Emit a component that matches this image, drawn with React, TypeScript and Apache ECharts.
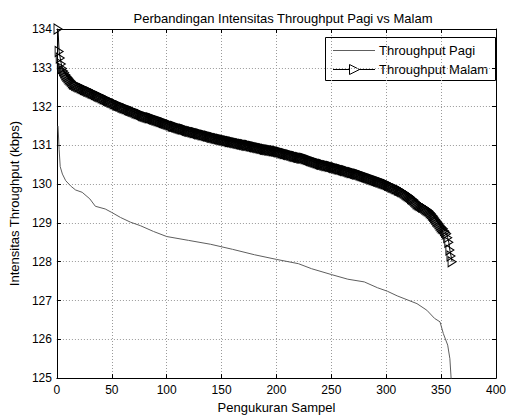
import React, { useEffect, useRef } from "react";
import * as echarts from "echarts";

const titleText = "Perbandingan Intensitas Throughput Pagi vs Malam";
const xName = "Pengukuran Sampel";
const yName = "Intensitas Throughput (kbps)";
const seriesNames = ["Throughput Pagi", "Throughput Malam"];

// Throughput Pagi: readings at selected sample numbers
const pagiSamples = [1, 2, 3, 5, 8, 13, 17, 23, 30, 35, 44, 50, 58, 67, 76, 88, 100, 120, 140, 160, 180, 200, 220, 232, 250, 265, 280, 292, 301, 310, 328, 337, 344, 349, 352, 356, 358, 360];
const pagiValues = [131.5, 130.9, 130.45, 130.26, 130.09, 129.94, 129.85, 129.79, 129.62, 129.43, 129.36, 129.27, 129.14, 129.02, 128.93, 128.78, 128.65, 128.55, 128.45, 128.32, 128.18, 128.06, 127.95, 127.82, 127.67, 127.55, 127.48, 127.33, 127.24, 127.12, 126.92, 126.75, 126.54, 126.45, 126.15, 125.85, 125.5, 124.6];

// Throughput Malam: one reading per sample, samples 1..360
const malamValues = [
  134.00, 133.42, 133.25, 133.10, 132.98, 132.92, 132.87, 132.82, 132.78, 132.75,
  132.71, 132.68, 132.65, 132.61, 132.58, 132.57, 132.55, 132.54, 132.52, 132.51,
  132.50, 132.48, 132.47, 132.46, 132.44, 132.43, 132.42, 132.40, 132.39, 132.38,
  132.37, 132.35, 132.34, 132.33, 132.31, 132.30, 132.28, 132.27, 132.26, 132.25,
  132.23, 132.22, 132.20, 132.19, 132.18, 132.16, 132.15, 132.14, 132.12, 132.11,
  132.10, 132.08, 132.07, 132.06, 132.04, 132.03, 132.02, 132.01, 131.99, 131.98,
  131.97, 131.96, 131.95, 131.94, 131.92, 131.91, 131.90, 131.89, 131.88, 131.87,
  131.86, 131.84, 131.83, 131.82, 131.81, 131.80, 131.79, 131.77, 131.76, 131.75,
  131.74, 131.73, 131.72, 131.71, 131.71, 131.70, 131.69, 131.68, 131.67, 131.66,
  131.65, 131.64, 131.63, 131.62, 131.61, 131.60, 131.59, 131.58, 131.57, 131.56,
  131.55, 131.54, 131.53, 131.52, 131.50, 131.49, 131.49, 131.48, 131.47, 131.46,
  131.45, 131.44, 131.43, 131.42, 131.42, 131.41, 131.40, 131.39, 131.38, 131.37,
  131.36, 131.36, 131.35, 131.34, 131.33, 131.33, 131.32, 131.31, 131.30, 131.30,
  131.29, 131.28, 131.27, 131.27, 131.26, 131.25, 131.24, 131.24, 131.23, 131.22,
  131.21, 131.21, 131.20, 131.19, 131.18, 131.18, 131.17, 131.16, 131.16, 131.15,
  131.14, 131.14, 131.13, 131.12, 131.12, 131.11, 131.10, 131.10, 131.09, 131.09,
  131.08, 131.07, 131.07, 131.06, 131.05, 131.05, 131.04, 131.03, 131.03, 131.02,
  131.02, 131.01, 131.00, 131.00, 131.00, 130.99, 130.98, 130.98, 130.97, 130.96,
  130.96, 130.95, 130.94, 130.94, 130.93, 130.92, 130.92, 130.91, 130.90, 130.90,
  130.89, 130.89, 130.88, 130.88, 130.87, 130.87, 130.86, 130.86, 130.85, 130.85,
  130.84, 130.83, 130.83, 130.82, 130.81, 130.80, 130.79, 130.79, 130.78, 130.77,
  130.76, 130.76, 130.75, 130.74, 130.73, 130.72, 130.72, 130.71, 130.70, 130.69,
  130.69, 130.68, 130.67, 130.67, 130.67, 130.66, 130.65, 130.64, 130.63, 130.62,
  130.61, 130.60, 130.59, 130.58, 130.57, 130.56, 130.55, 130.54, 130.53, 130.52,
  130.51, 130.51, 130.50, 130.49, 130.48, 130.48, 130.47, 130.46, 130.46, 130.45,
  130.44, 130.43, 130.43, 130.42, 130.41, 130.40, 130.39, 130.39, 130.38, 130.37,
  130.36, 130.35, 130.35, 130.34, 130.33, 130.32, 130.31, 130.30, 130.30, 130.29,
  130.28, 130.27, 130.26, 130.26, 130.25, 130.24, 130.23, 130.22, 130.21, 130.20,
  130.19, 130.18, 130.17, 130.16, 130.15, 130.14, 130.13, 130.12, 130.11, 130.10,
  130.09, 130.08, 130.07, 130.06, 130.05, 130.04, 130.03, 130.02, 130.01, 130.00,
  129.99, 129.97, 129.96, 129.95, 129.93, 129.92, 129.91, 129.89, 129.88, 129.87,
  129.85, 129.84, 129.83, 129.81, 129.80, 129.78, 129.76, 129.74, 129.72, 129.70,
  129.68, 129.66, 129.63, 129.61, 129.59, 129.56, 129.53, 129.50, 129.48, 129.46,
  129.45, 129.43, 129.41, 129.40, 129.38, 129.36, 129.34, 129.32, 129.30, 129.27,
  129.24, 129.20, 129.17, 129.13, 129.09, 129.05, 129.02, 128.98, 128.94, 128.90,
  128.87, 128.85, 128.80, 128.76, 128.72, 128.62, 128.50, 128.30, 128.15, 128.00,
];

const xMin = 0, xMax = 400, xStep = 50;
const yMin = 125, yMax = 134, yStep = 1;

const FONT = "'Liberation Sans', Arial, Helvetica, sans-serif";
const PAGI_COLOR = "#5e5e5e";

export default function App() {
  const ref = useRef<HTMLDivElement>(null);
  useEffect(() => {
    if (!ref.current) return;
    const chart = echarts.init(ref.current, null, { renderer: "svg" });
    const pagiData = pagiSamples.map((s, i) => [s, pagiValues[i]]);
    const malamData = malamValues.map((v, i) => [i + 1, v]);
    const tri = "path://M0,0L10,5L0,10Z";
    const gridLine = { show: true, lineStyle: { color: "#9a9a9a", width: 1, type: [1, 2] as any } };
    const axisLine = { show: true, onZero: false, lineStyle: { color: "#000", width: 1 } };
    const tick = { show: true, inside: true, length: 4, lineStyle: { color: "#000" } };
    const legendText = { fontSize: 13, fill: "#000", fontFamily: FONT, verticalAlign: "middle" as const };
    chart.setOption({
      animation: false,
      backgroundColor: "#fff",
      textStyle: { fontFamily: FONT },
      title: {
        text: titleText,
        left: 278,
        top: 7,
        textAlign: "center",
        textStyle: { fontSize: 13, fontWeight: "normal", color: "#000", fontFamily: FONT },
      },
      grid: { left: 56, right: 9, top: 29, bottom: 39 },
      xAxis: [
        {
          type: "value", min: xMin, max: xMax, interval: xStep,
          name: xName, nameLocation: "middle", nameGap: 22,
          nameTextStyle: { fontSize: 13, color: "#000", fontFamily: FONT },
          axisLine, axisTick: tick,
          axisLabel: { color: "#000", fontSize: 12, margin: 6, fontFamily: FONT },
          splitLine: gridLine,
        },
        {
          type: "value", position: "top", min: xMin, max: xMax, interval: xStep,
          axisLine, axisTick: tick, axisLabel: { show: false }, splitLine: { show: false },
        },
      ],
      yAxis: [
        {
          type: "value", min: yMin, max: yMax, interval: yStep,
          name: yName, nameLocation: "middle", nameGap: 35,
          nameTextStyle: { fontSize: 13, color: "#000", fontFamily: FONT },
          axisLine, axisTick: tick,
          axisLabel: { color: "#000", fontSize: 12, margin: 5, fontFamily: FONT },
          splitLine: gridLine,
        },
        {
          type: "value", position: "right", min: yMin, max: yMax, interval: yStep,
          axisLine, axisTick: tick, axisLabel: { show: false }, splitLine: { show: false },
        },
      ],
      graphic: [
        {
          type: "group",
          z: 100,
          children: [
            { type: "rect", shape: { x: 325.5, y: 37.5, width: 170, height: 43 }, style: { fill: "#fff", stroke: "#000", lineWidth: 1 } },
            { type: "line", shape: { x1: 333, y1: 50.5, x2: 375, y2: 50.5 }, style: { stroke: PAGI_COLOR, lineWidth: 1 } },
            { type: "text", x: 379, y: 50.5, style: { ...legendText, text: seriesNames[0] } },
            { type: "line", shape: { x1: 333, y1: 69.5, x2: 375, y2: 69.5 }, style: { stroke: "#000", lineWidth: 1 } },
            { type: "polygon", shape: { points: [[349.5, 64.5], [359.5, 69.5], [349.5, 74.5]] }, style: { fill: "#fff", stroke: "#000", lineWidth: 1 } },
            { type: "text", x: 379, y: 69.5, style: { ...legendText, text: seriesNames[1] } },
          ],
        },
      ],
      series: [
        {
          name: seriesNames[0],
          type: "line",
          data: pagiData,
          symbol: "none",
          showSymbol: false,
          clip: true,
          lineStyle: { color: PAGI_COLOR, width: 1 },
          itemStyle: { color: PAGI_COLOR },
        },
        {
          name: seriesNames[1],
          type: "line",
          data: malamData,
          symbol: tri,
          symbolSize: [8, 10],
          showSymbol: true,
          showAllSymbol: true,
          clip: true,
          lineStyle: { color: "#000", width: 1 },
          itemStyle: { color: "rgba(255,255,255,0)", borderColor: "#000", borderWidth: 1 },
        },
      ],
    });
    return () => chart.dispose();
  }, []);
  return <div ref={ref} style={{ position: "fixed", left: 0, top: 0, width: 509, height: 419 }} />;
}
